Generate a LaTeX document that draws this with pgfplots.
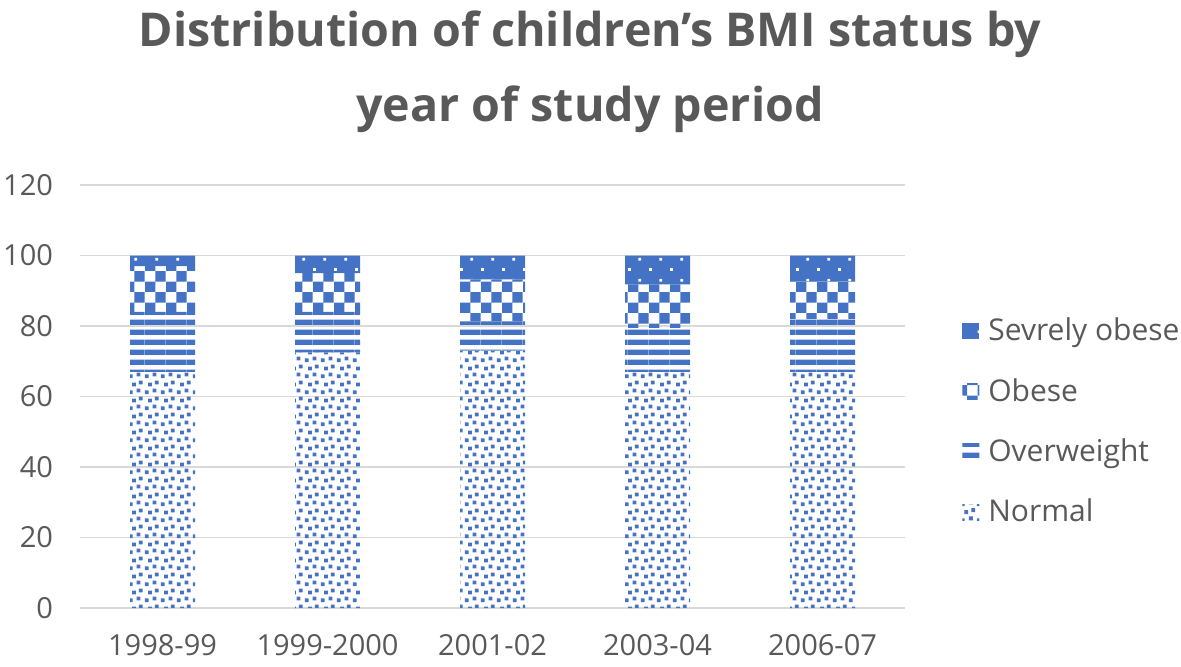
\documentclass[border=0pt]{standalone}
\usepackage{pgfplots}
\pgfplotsset{compat=1.18}
\usepackage{fontspec}
\setmainfont{Open Sans}
\usetikzlibrary{patterns}
\definecolor{xblue}{HTML}{4472C4}
\definecolor{xtext}{HTML}{595959}
\definecolor{xgrid}{HTML}{D9D9D9}

\pgfdeclarepatternformonly{confettiX}{\pgfqpoint{0pt}{0pt}}{\pgfqpoint{8pt}{8pt}}{\pgfqpoint{8pt}{8pt}}{%
  \pgfpathrectangle{\pgfqpoint{0.4pt}{0.4pt}}{\pgfqpoint{2pt}{2pt}}%
  \pgfpathrectangle{\pgfqpoint{4.6pt}{1.4pt}}{\pgfqpoint{2pt}{2pt}}%
  \pgfpathrectangle{\pgfqpoint{2.2pt}{4.6pt}}{\pgfqpoint{2pt}{2pt}}%
  \pgfpathrectangle{\pgfqpoint{5.8pt}{5.6pt}}{\pgfqpoint{2pt}{2pt}}%
  \pgfusepath{fill}}
\pgfdeclarepatternformonly{hstripesX}{\pgfqpoint{0pt}{0pt}}{\pgfqpoint{10.4pt}{5.2pt}}{\pgfqpoint{10.4pt}{5.2pt}}{%
  \pgfpathrectangle{\pgfqpoint{0pt}{0pt}}{\pgfqpoint{10.4pt}{2.8pt}}%
  \pgfusepath{fill}}
\pgfdeclarepatternformonly{checkerX}{\pgfqpoint{0pt}{0pt}}{\pgfqpoint{10.4pt}{10.4pt}}{\pgfqpoint{10.4pt}{10.4pt}}{%
  \pgfpathrectangle{\pgfqpoint{0pt}{0pt}}{\pgfqpoint{5.2pt}{5.2pt}}%
  \pgfpathrectangle{\pgfqpoint{5.2pt}{5.2pt}}{\pgfqpoint{5.2pt}{5.2pt}}%
  \pgfusepath{fill}}
\pgfdeclarepatternformonly{wdotsX}{\pgfqpoint{0pt}{0pt}}{\pgfqpoint{10.4pt}{10.4pt}}{\pgfqpoint{10.4pt}{10.4pt}}{%
  \pgfpathrectangle{\pgfqpoint{0pt}{0pt}}{\pgfqpoint{1.4pt}{1.4pt}}%
  \pgfpathrectangle{\pgfqpoint{5.2pt}{5.2pt}}{\pgfqpoint{1.4pt}{1.4pt}}%
  \pgfusepath{fill}}

\begin{document}
\begin{tikzpicture}
\begin{axis}[
  at={(0,0)}, anchor=south west,
  scale only axis, width=412.5pt, height=211.5pt,
  ybar stacked, bar width=32.5pt,
  xmin=-0.5, xmax=4.5, ymin=0, ymax=120,
  xtick={0,1,2,3,4},
  xticklabels={1998-99,1999-2000,2001-02,2003-04,2006-07},
  ytick={0,20,...,120},
  ymajorgrids, grid style={xgrid, line width=0.8pt},
  axis line style={draw=none}, tick style={draw=none},
  /pgf/number format/assume math mode=true,
  ticklabel style={font=\fontsize{14.5}{17}\selectfont, text=xtext},
  yticklabel style={xshift=-10pt},
  xticklabel style={yshift=-9.5pt},
  legend style={at={(1.069,0.441)}, anchor=west, draw=none, fill=none,
    font=\fontsize{15}{18}\selectfont, text=xtext, row sep=13.3pt,
    inner sep=0pt, nodes={inner xsep=4.5pt}},
  legend cell align=left,
  reverse legend,
  legend image code/.code={\path[#1] (0pt,-4pt) rectangle (8.5pt,4pt);},
  clip=false,
]
\addplot[draw=none, pattern=confettiX, pattern color=xblue] coordinates {(0,67) (1,72.5) (2,73) (3,67) (4,67)};
\addplot[draw=none, pattern=hstripesX, pattern color=xblue] coordinates {(0,17) (1,11.5) (2,8.3) (3,12.5) (4,15)};
\addplot[draw=none, pattern=checkerX, pattern color=xblue] coordinates {(0,13) (1,11) (2,11.9) (3,12.3) (4,10.6)};
\addplot[draw=none, fill=xblue, postaction={pattern=wdotsX, pattern color=white}] coordinates {(0,3) (1,5) (2,6.8) (3,8.2) (4,7.4)};
\legend{Normal,Overweight,Obese,Sevrely obese}
\end{axis}
\node[align=center, text=xtext, font=\fontsize{23.3}{37.5}\selectfont\bfseries] at (255pt,268pt)
  {Distribution of children’s BMI status by\\year of study period};
\pgfresetboundingbox
\useasboundingbox (-40pt,-29pt) rectangle (550.5pt,304pt);
\end{tikzpicture}
\end{document}
